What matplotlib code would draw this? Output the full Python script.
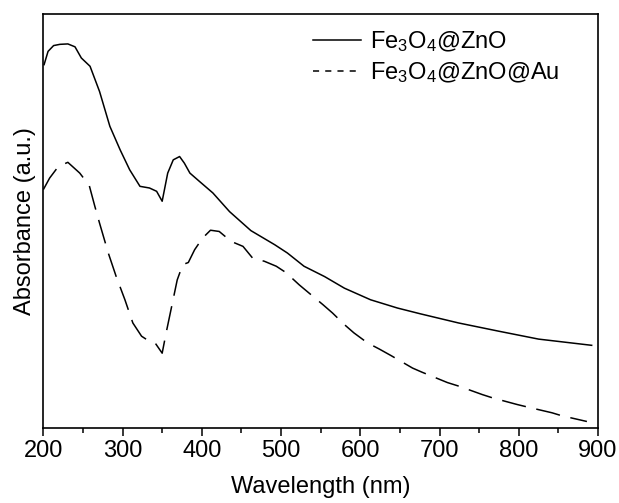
import matplotlib
matplotlib.use('Agg')
import matplotlib.pyplot as plt
from matplotlib.lines import Line2D

plt.rcParams['font.family'] = ['Liberation Sans', 'DejaVu Sans']
plt.rcParams['mathtext.fontset'] = 'custom'
plt.rcParams['mathtext.rm'] = 'Liberation Sans'
plt.rcParams['mathtext.it'] = 'Liberation Sans'

# Fe3O4@ZnO (solid)
wl_zno = [201, 206, 213, 221, 231, 240, 248, 259, 271, 284, 297, 309, 322, 334,
          343, 350, 357, 364, 372, 378, 385, 397, 414, 435, 462, 492, 508,
          529, 555, 580, 613, 647, 676, 724, 775, 825, 892]
abs_zno = [0.877, 0.909, 0.923, 0.926, 0.927, 0.920, 0.893, 0.873, 0.812, 0.728,
           0.671, 0.623, 0.583, 0.579, 0.571, 0.547, 0.615, 0.647, 0.655, 0.639,
           0.615, 0.595, 0.567, 0.522, 0.476, 0.442, 0.422, 0.390, 0.365,
           0.337, 0.309, 0.289, 0.275, 0.253, 0.233, 0.214, 0.199]

# Fe3O4@ZnO@Au (dashed)
wl_au = [200, 208, 219, 231, 246, 258, 265, 271, 282, 292, 303, 313, 324, 332,
         341, 350, 355, 362, 369, 376, 383, 391, 401, 411, 422, 437, 452, 464,
         479, 494, 506, 523, 538, 553, 565, 580, 592, 609, 624, 639, 666, 678,
         710, 725, 754, 767, 798, 813, 842, 854, 886]
abs_au = [0.575, 0.603, 0.631, 0.641, 0.615, 0.585, 0.535, 0.494, 0.422, 0.365,
          0.309, 0.253, 0.221, 0.211, 0.205, 0.180, 0.229, 0.293, 0.357, 0.394,
          0.399, 0.430, 0.458, 0.477, 0.474, 0.450, 0.438, 0.410, 0.402, 0.390,
          0.375, 0.345, 0.321, 0.297, 0.277, 0.249, 0.229, 0.205, 0.190, 0.174,
          0.144, 0.134, 0.109, 0.100, 0.080, 0.072, 0.056, 0.049, 0.036, 0.029,
          0.015]

fig = plt.figure(figsize=(6.19, 5.03), dpi=100)
ax = fig.add_axes([43.3 / 619, 75.3 / 503, 554.7 / 619, 414 / 503])

ax.plot(wl_zno, abs_zno, color='black', lw=1.1)
ax.plot(wl_au, abs_au, color='black', lw=1.1, dashes=(16, 7))

ax.set_xlim(200, 900)
ax.set_ylim(0, 1)
ax.set_xticks(range(200, 901, 100))
ax.set_xticks(range(250, 900, 100), minor=True)
ax.set_yticks([])
ax.tick_params(axis='x', which='major', direction='out', length=6, width=1.1,
               labelsize=17, pad=3)
ax.tick_params(axis='x', which='minor', direction='out', length=3.5, width=1.1)
for s in ax.spines.values():
    s.set_linewidth(1.2)

ax.set_xlabel('Wavelength (nm)', fontsize=17, labelpad=10)
ax.set_ylabel('Absorbance (a.u.)', fontsize=17, labelpad=5)

handles = [Line2D([], [], color='black', lw=1.1),
           Line2D([], [], color='black', lw=1.1, dashes=(4, 4))]
labels = ['Fe$_3$O$_4$@ZnO', 'Fe$_3$O$_4$@ZnO@Au']
ax.legend(handles, labels, frameon=False, fontsize=17, loc='upper left',
          bbox_to_anchor=(0.47, 0.985), handlelength=2.0, handletextpad=0.4,
          labelspacing=0.25, borderaxespad=0)

fig.savefig('out.png', dpi=100)
